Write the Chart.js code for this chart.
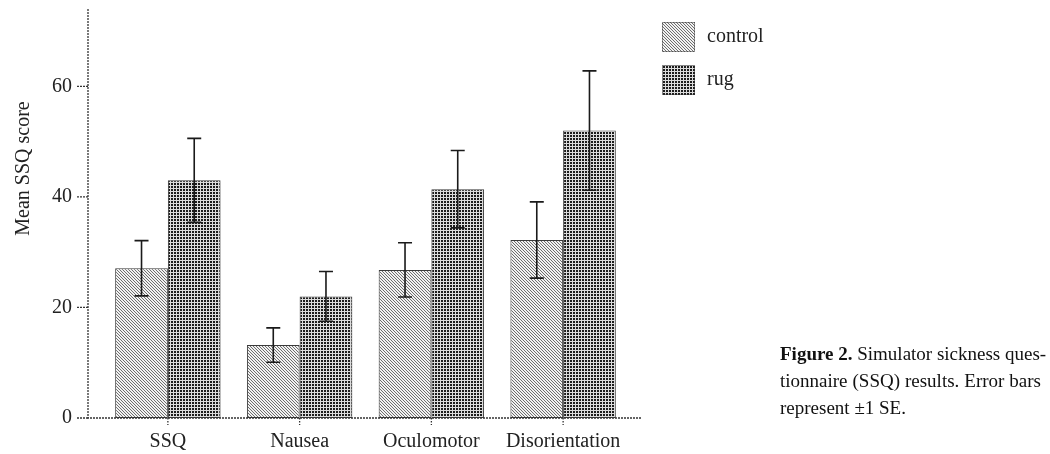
<!DOCTYPE html>
<html>
<head>
<meta charset="utf-8">
<script src="https://cdn.jsdelivr.net/npm/chart.js@4.4.0/dist/chart.umd.min.js"></script>
<style>
  html, body { margin: 0; padding: 0; background: #fff; }
  #wrap { position: relative; width: 1050px; height: 454px; }
  #caption {
    position: absolute; left: 780px; top: 340px; width: 261px;
    font: 19px 'Liberation Serif', serif; line-height: 27px; color: #111;
  }
  #caption span { display: block; text-align: justify; text-align-last: justify; white-space: nowrap; }
  #caption span.last { text-align-last: left; }
</style>
</head>
<body>
<div id="wrap">
  <canvas id="chart" width="1050" height="454"></canvas>
  <div id="caption">
    <span><b>Figure 2.</b> Simulator sickness ques-</span>
    <span>tionnaire (SSQ) results. Error bars</span>
    <span class="last">represent ±1 SE.</span>
  </div>
</div>
<script>
const categories = ['SSQ', 'Nausea', 'Oculomotor', 'Disorientation'];
const controlMean = [27.1, 13.2, 26.8, 32.2];
const controlSE = [5.0, 3.1, 4.9, 6.9];
const rugMean = [43.0, 22.0, 41.4, 52.0];
const rugSE = [7.6, 4.5, 7.0, 10.8];
const yTicks = [0, 20, 40, 60];
const yTitle = 'Mean SSQ score';

const FONT = "'Liberation Serif', 'Times New Roman', serif";
const INK = '#222';

// halftone-ish fills like the printed figure
function makePattern(draw, size) {
    const c = document.createElement('canvas');
    c.width = size; c.height = size;
    draw(c.getContext('2d'));
    return c.getContext('2d').createPattern(c, 'repeat');
}

const controlFill = makePattern(g => {
    g.fillStyle = '#f2f2f2';
    g.fillRect(0, 0, 3, 3);
    g.fillStyle = '#6e6e6e';
    for (let i = 0; i < 3; i++) g.fillRect(i, i, 1, 1);
}, 3);

const rugFill = makePattern(g => {
    g.fillStyle = '#dcdcdc';
    g.fillRect(0, 0, 3, 3);
    g.fillStyle = '#1c1c1c';
    g.fillRect(0, 0, 2, 2);
}, 3);

const AXIS_GAP = 14;

const paperAxes = {
    id: 'paperAxes',
    afterDatasetsDraw(chart) {
        const { ctx, chartArea: a, scales: { x, y } } = chart;
        const x0 = a.left - AXIS_GAP;
        const base = y.getPixelForValue(0);

        ctx.save();
        ctx.strokeStyle = '#333';
        ctx.lineWidth = 1.3;
        ctx.setLineDash([2, 1]);
        ctx.beginPath();
        ctx.moveTo(x0, a.top);
        ctx.lineTo(x0, base);
        ctx.lineTo(a.right + AXIS_GAP - 1, base);
        ctx.stroke();

        // y tick marks
        yTicks.forEach(v => {
            const py = y.getPixelForValue(v);
            ctx.beginPath();
            ctx.moveTo(x0 - 11, py);
            ctx.lineTo(x0, py);
            ctx.stroke();
        });
        // category tick marks
        ctx.setLineDash([1.5, 1.5]);
        categories.forEach((c, i) => {
            const px = x.getPixelForValue(i);
            ctx.beginPath();
            ctx.moveTo(px, base);
            ctx.lineTo(px, base + 7);
            ctx.stroke();
        });
        ctx.setLineDash([]);

        // error bars
        ctx.strokeStyle = '#1a1a1a';
        ctx.lineWidth = 1.6;
        chart.data.datasets.forEach((ds, di) => {
            chart.getDatasetMeta(di).data.forEach((bar, i) => {
                const hi = y.getPixelForValue(ds.data[i] + ds.se[i]);
                const lo = y.getPixelForValue(ds.data[i] - ds.se[i]);
                ctx.beginPath();
                ctx.moveTo(bar.x, hi); ctx.lineTo(bar.x, lo);
                ctx.moveTo(bar.x - 7, hi); ctx.lineTo(bar.x + 7, hi);
                ctx.moveTo(bar.x - 7, lo); ctx.lineTo(bar.x + 7, lo);
                ctx.stroke();
            });
        });

        // y axis title
        ctx.fillStyle = INK;
        ctx.font = '20px ' + FONT;
        ctx.textAlign = 'center';
        ctx.textBaseline = 'middle';
        ctx.translate(24, (a.top + base) / 2 - 45);
        ctx.rotate(-Math.PI / 2);
        ctx.fillText(yTitle, 0, 0);
        ctx.restore();

        // legend
        ctx.save();
        ctx.font = '20px ' + FONT;
        ctx.textBaseline = 'middle';
        chart.data.datasets.forEach((ds, di) => {
            const lx = a.right + 33;
            const ly = a.top + 13 + di * 43;
            ctx.fillStyle = ds.backgroundColor;
            ctx.fillRect(lx, ly, 33, 30);
            ctx.strokeStyle = '#333';
            ctx.lineWidth = 1;
            ctx.setLineDash([1, 1]);
            ctx.strokeRect(lx + 0.5, ly + 0.5, 32, 29);
            ctx.setLineDash([]);
            ctx.fillStyle = INK;
            ctx.fillText(ds.label, lx + 45, ly + 15);
        });
        ctx.restore();
    }
};

new Chart(document.getElementById('chart'), {
    type: 'bar',
    data: {
        labels: categories,
        datasets: [
            { label: 'control', data: controlMean, se: controlSE, backgroundColor: controlFill },
            { label: 'rug', data: rugMean, se: rugSE, backgroundColor: rugFill }
        ]
    },
    options: {
        responsive: false,
        animation: false,
        devicePixelRatio: 1,
        layout: { padding: { top: 9, right: 421, left: 0, bottom: 0 } },
        datasets: {
            bar: {
                categoryPercentage: 0.8,
                barPercentage: 1.0,
                borderColor: '#3a3a3a',
                borderWidth: 1,
                borderSkipped: false
            }
        },
        plugins: {
            legend: { display: false },
            tooltip: { enabled: false }
        },
        scales: {
            x: {
                afterFit: s => { s.height = 36; s.paddingLeft = 0; s.paddingRight = 0; },
                grid: { display: false, drawTicks: false },
                border: { display: false },
                ticks: { color: INK, font: { family: FONT, size: 20 }, padding: 12, maxRotation: 0 }
            },
            y: {
                min: 0,
                max: 74,
                afterFit: s => { s.width = 102; s.paddingTop = 0; s.paddingBottom = 0; },
                grid: { display: false, drawTicks: false },
                border: { display: false },
                ticks: {
                    stepSize: 20,
                    includeBounds: false,
                    color: INK,
                    font: { family: FONT, size: 20 },
                    padding: 30
                }
            }
        }
    },
    plugins: [paperAxes]
});
</script>
</body>
</html>
